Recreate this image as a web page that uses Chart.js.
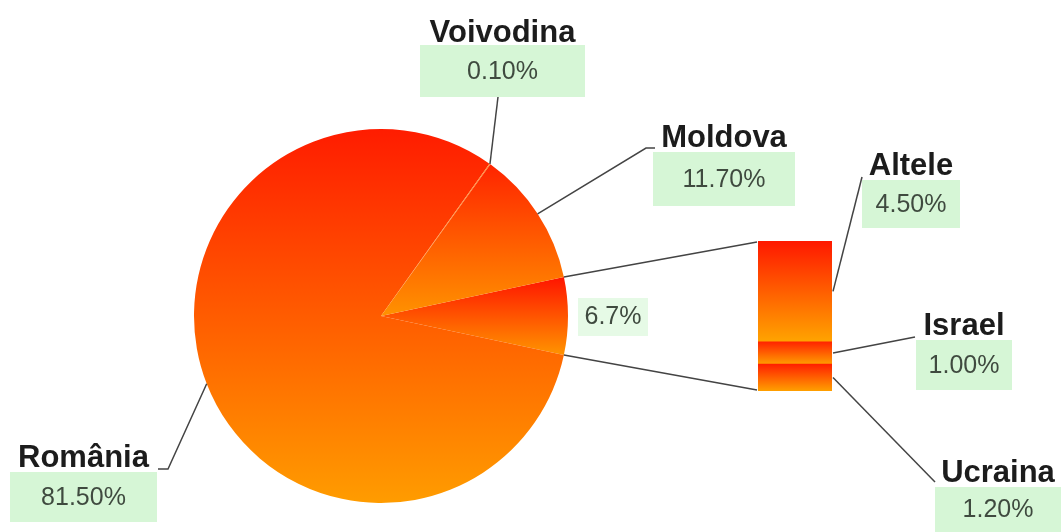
<!DOCTYPE html>
<html>
<head>
<meta charset="utf-8">
<script src="https://cdn.jsdelivr.net/npm/chart.js@4"></script>
<style>
  body { margin: 0; background: #fff; }
  #wrap { position: relative; width: 1061px; height: 532px; }
  #wrap canvas { position: absolute; left: 0; top: 0; }
</style>
</head>
<body>
<div id="wrap">
  <canvas id="pie" width="1061" height="532"></canvas>
  <canvas id="bar" width="1061" height="532"></canvas>
</div>
<script>
// pie slices, clockwise starting with the grouped slice
var pieLabels = ["6.7%", "România", "Voivodina", "Moldova"];
var pieValues = [6.7, 81.5, 0.1, 11.7];
// breakdown of the grouped slice, bottom to top
var barLabels = ["Ucraina", "Israel", "Altele"];
var barValues = [1.2, 1.0, 4.5];

// gradient stops per slice / segment (top colour, bottom colour)
var pieStops = [["#ff1400", "#ff9400"], ["#ff1c00", "#ff9c00"], ["#ff8a30", "#ffa040"], ["#ff2400", "#ff9200"]];
var barStops = [["#ff2000", "#ffa000"], ["#ff2400", "#ff9c00"], ["#ff1800", "#ffa400"]];

var total = pieValues.reduce(function(a, b) { return a + b; }, 0);
var rotation = 90 - pieValues[0] / total * 180;

function pieFill(c) {
  var chart = c.chart, a = chart.chartArea;
  var stops = pieStops[c.dataIndex];
  if (!a) return stops[1];
  var cx = (a.left + a.right) / 2, cy = (a.top + a.bottom) / 2;
  var r = Math.min(a.right - a.left, a.bottom - a.top) / 2;
  var before = 0;
  for (var k = 0; k < c.dataIndex; k++) before += pieValues[k];
  var a0 = (rotation - 90) * Math.PI / 180 + before / total * 2 * Math.PI;
  var a1 = a0 + pieValues[c.dataIndex] / total * 2 * Math.PI;
  var ys = [cy, cy + r * Math.sin(a0), cy + r * Math.sin(a1)];
  [-Math.PI / 2, Math.PI / 2, 3 * Math.PI / 2, 5 * Math.PI / 2].forEach(function(t) {
    if (t > a0 && t < a1) ys.push(cy + r * Math.sin(t));
  });
  var g = chart.ctx.createLinearGradient(0, Math.min.apply(null, ys), 0, Math.max.apply(null, ys));
  g.addColorStop(0, stops[0]);
  g.addColorStop(1, stops[1]);
  return g;
}

function barFill(c) {
  var chart = c.chart, y = chart.scales.y;
  var stops = barStops[c.datasetIndex];
  if (!chart.chartArea || !y) return stops[1];
  var base = 0;
  for (var k = 0; k < c.datasetIndex; k++) base += barValues[k];
  var top = y.getPixelForValue(base + barValues[c.datasetIndex]);
  var bottom = y.getPixelForValue(base);
  var g = chart.ctx.createLinearGradient(0, top, 0, bottom);
  g.addColorStop(0, stops[0]);
  g.addColorStop(1, stops[1]);
  return g;
}

var pieChart = new Chart(document.getElementById("pie").getContext("2d"), {
  type: "pie",
  data: {
    labels: pieLabels,
    datasets: [{ data: pieValues, backgroundColor: pieFill, borderWidth: 0 }]
  },
  options: {
    responsive: false,
    animation: false,
    devicePixelRatio: 1,
    rotation: rotation,
    layout: { padding: { left: 194, right: 493, top: 129, bottom: 29 } },
    plugins: { legend: { display: false }, tooltip: { enabled: false } }
  }
});

// label boxes: [x, y, w, h], title baseline, connector elbow points
var callouts = {
  "Voivodina": { box: [420, 45, 165, 52], base: 42, path: [[498, 97]] },
  "Moldova": { box: [653, 152, 142, 54], base: 147, path: [[646, 148], [655, 148]] },
  "România": { box: [10, 472, 147, 50], base: 467, path: [[168, 469], [158, 469]] },
  "Altele": { box: [862, 180, 98, 48], base: 175, path: [[862, 177]] },
  "Israel": { box: [916, 340, 96, 50], base: 335, path: [[915, 337]] },
  "Ucraina": { box: [935, 487, 126, 45], base: 482, path: [[935, 482]] }
};
var groupBox = [578, 298, 70, 38];

function drawCallout(ctx, name, value, anchor) {
  var c = callouts[name];
  var b = c.box;
  ctx.fillStyle = "#d6f6d6";
  ctx.fillRect(b[0], b[1], b[2], b[3]);
  ctx.strokeStyle = "#444";
  ctx.lineWidth = 1.5;
  ctx.beginPath();
  ctx.moveTo(anchor[0], anchor[1]);
  c.path.forEach(function(p) { ctx.lineTo(p[0], p[1]); });
  ctx.stroke();
  ctx.textAlign = "center";
  ctx.textBaseline = "alphabetic";
  ctx.fillStyle = "#1c1c1c";
  ctx.font = "bold 31px 'Liberation Sans', Arial, sans-serif";
  ctx.fillText(name, b[0] + b[2] / 2, c.base);
  ctx.textBaseline = "middle";
  ctx.fillStyle = "#3f4a3f";
  ctx.font = "25px 'Liberation Sans', Arial, sans-serif";
  ctx.fillText(value.toFixed(2) + "%", b[0] + b[2] / 2, b[1] + b[3] / 2 + 1);
}

var calloutPlugin = {
  id: "callouts",
  afterDraw: function(chart) {
    var ctx = chart.ctx;
    var arcs = pieChart.getDatasetMeta(0).data;
    ctx.save();

    // lines from grouped slice to the bar
    var g = arcs[0].getProps(["x", "y", "startAngle", "endAngle", "outerRadius"]);
    var a = chart.chartArea;
    ctx.strokeStyle = "#444";
    ctx.lineWidth = 1.5;
    ctx.beginPath();
    ctx.moveTo(g.x + g.outerRadius * Math.cos(g.startAngle), g.y + g.outerRadius * Math.sin(g.startAngle));
    ctx.lineTo(a.left - 1, a.top + 1);
    ctx.moveTo(g.x + g.outerRadius * Math.cos(g.endAngle), g.y + g.outerRadius * Math.sin(g.endAngle));
    ctx.lineTo(a.left - 1, a.bottom - 1);
    ctx.stroke();

    // grouped slice value
    ctx.fillStyle = "rgba(214,246,214,0.6)";
    ctx.fillRect(groupBox[0], groupBox[1], groupBox[2], groupBox[3]);
    ctx.fillStyle = "#3f4a3f";
    ctx.font = "25px 'Liberation Sans', Arial, sans-serif";
    ctx.textAlign = "center";
    ctx.textBaseline = "middle";
    ctx.fillText(pieLabels[0], groupBox[0] + groupBox[2] / 2, groupBox[1] + groupBox[3] / 2);

    // pie callouts
    for (var i = 1; i < arcs.length; i++) {
      var p = arcs[i].getProps(["x", "y", "startAngle", "endAngle", "outerRadius"]);
      var mid = (p.startAngle + p.endAngle) / 2;
      drawCallout(ctx, pieLabels[i], pieValues[i],
        [p.x + p.outerRadius * Math.cos(mid), p.y + p.outerRadius * Math.sin(mid)]);
    }

    // bar callouts
    for (var j = 0; j < barLabels.length; j++) {
      var bar = chart.getDatasetMeta(j).data[0].getProps(["x", "y", "base", "width"]);
      drawCallout(ctx, barLabels[j], barValues[j],
        [bar.x + bar.width / 2 + 1, (bar.y + bar.base) / 2]);
    }
    ctx.restore();
  }
};

var barChart = new Chart(document.getElementById("bar").getContext("2d"), {
  type: "bar",
  data: {
    labels: [""],
    datasets: barLabels.map(function(l, i) {
      return {
        label: l,
        data: [barValues[i]],
        backgroundColor: barFill,
        borderWidth: 0,
        barPercentage: 1,
        categoryPercentage: 1
      };
    })
  },
  options: {
    responsive: false,
    animation: false,
    devicePixelRatio: 1,
    layout: { padding: { left: 758, right: 229, top: 241, bottom: 141 } },
    scales: {
      x: { stacked: true, display: false },
      y: { stacked: true, display: false, min: 0, max: 6.7 }
    },
    plugins: { legend: { display: false }, tooltip: { enabled: false } }
  },
  plugins: [calloutPlugin]
});
</script>
</body>
</html>
